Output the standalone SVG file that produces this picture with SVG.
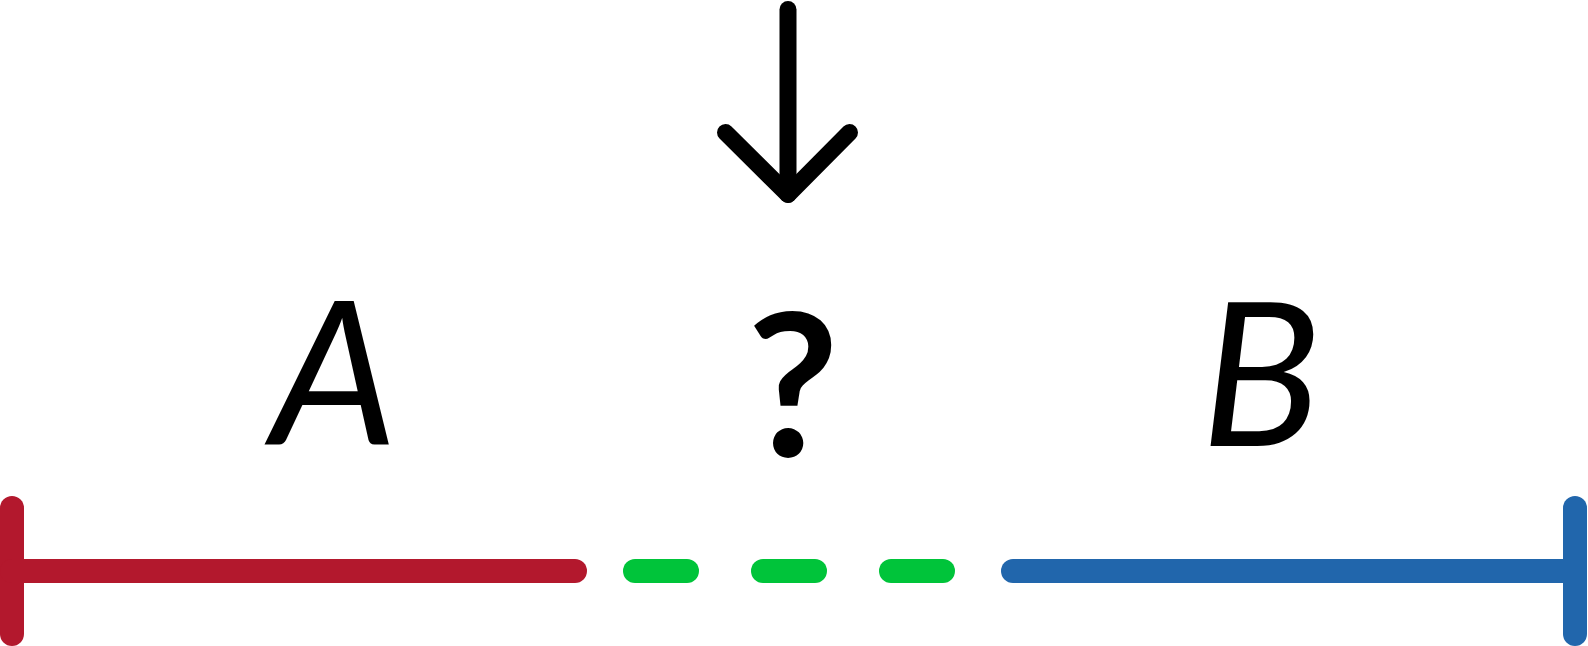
<svg xmlns="http://www.w3.org/2000/svg" width="1588" height="646" viewBox="0 0 1588 646">
<style>
.s{fill:none;stroke-width:24;stroke-linecap:round;stroke-linejoin:round}
.red{stroke:#b3182d}
.green{stroke:#00c43a}
.blue{stroke:#2166ac}
.arrow{fill:none;stroke:#000;stroke-width:17;stroke-linecap:round;stroke-linejoin:round}
.lbl{font-family:Lato,"Noto Sans",sans-serif;font-size:200px;fill:#000;text-anchor:middle}
.it{font-style:italic}
.b{font-weight:700}
</style>
<rect width="1588" height="646" fill="#fff"/>
<g id="connectors">
<g id="arrow">
<path class="arrow" d="M788 9.5V194.5"/>
<path class="arrow" d="M725.5 132.5L788 194.5L849.5 132.5"/>
</g>
<g id="segment-A">
<path class="s red" d="M12 508V634"/>
<path class="s red" d="M12 571H575"/>
</g>
<g id="segment-gap">
<path class="s green" d="M635 571H687"/>
<path class="s green" d="M763 571H815"/>
<path class="s green" d="M891 571H943"/>
</g>
<g id="segment-B">
<path class="s blue" d="M1013 571H1575"/>
<path class="s blue" d="M1575 508V634"/>
</g>
</g>
<g id="label-A"><text class="lbl it" x="334" y="445">A</text></g>
<g id="label-q"><text class="lbl b" x="793" y="457">?</text></g>
<g id="label-B"><text class="lbl it" x="1261" y="446">B</text></g>
</svg>
